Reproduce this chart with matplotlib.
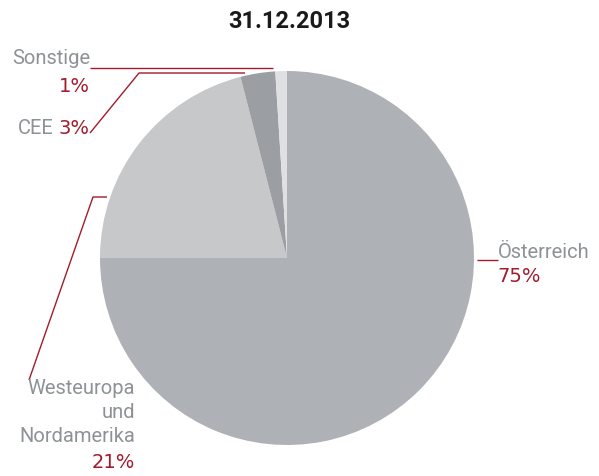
import matplotlib.pyplot as plt

# Data
regions = ['Österreich', 'Westeuropa\nund\nNordamerika', 'CEE', 'Sonstige']
shares = [75, 21, 3, 1]
pct_labels = ['75%', '21%', '3%', '1%']
colors = ['#aeb1b5', '#c6c8ca', '#9b9fa4', '#dfe0e2']

red = '#a31b2c'
grey = '#8e9297'
H = 476

fig = plt.figure(figsize=(5.99, 4.76), dpi=100)
ax = fig.add_axes([0, 0, 1, 1])

ax.pie(shares, colors=colors, startangle=90, counterclock=False,
       center=(287, H - 258), radius=187, frame=True,
       wedgeprops=dict(linewidth=0))
ax.set_xlim(0, 599)
ax.set_ylim(0, H)
ax.set_aspect('equal')
ax.axis('off')

fig.text(289 / 599, 1 - 22 / H, '31.12.2013', ha='center', va='center',
         fontsize=17, fontweight='bold', color='#1a1a1a', family='Roboto')

fs = 14.5
fam = 'Roboto'
pfam = 'DejaVu Sans'
pfs = 14


# leader lines (pixel coords, y from top)
def line(xs, ys):
    ax.plot(xs, [H - y for y in ys], color=red, lw=1.0, solid_capstyle='butt')


line([90, 273], [68, 68])
line([90, 139, 245], [133, 73, 73])
line([29, 93, 107], [380, 197, 197])
line([477, 498], [260, 260])

lbl = dict(fontsize=fs, color=grey, family=fam)
pct = dict(fontsize=pfs, color=red, family=pfam)

# labels
ax.text(90, H - 58, 'Sonstige', ha='right', va='center', **lbl)
ax.text(90, H - 86, pct_labels[3], ha='right', va='center', **pct)
ax.text(54, H - 128, regions[2], ha='right', va='center', **lbl)
ax.text(90, H - 128, pct_labels[2], ha='right', va='center', **pct)
ax.text(498, H - 253, regions[0], ha='left', va='center', **lbl)
ax.text(497, H - 277, pct_labels[0], ha='left', va='center', **pct)
for i, part in enumerate(regions[1].split('\n')):
    ax.text(135, H - (389 + 24 * i), part, ha='right', va='center', **lbl)
ax.text(135, H - 462, pct_labels[1], ha='right', va='center', **pct)

fig.savefig('out.png', dpi=100)
